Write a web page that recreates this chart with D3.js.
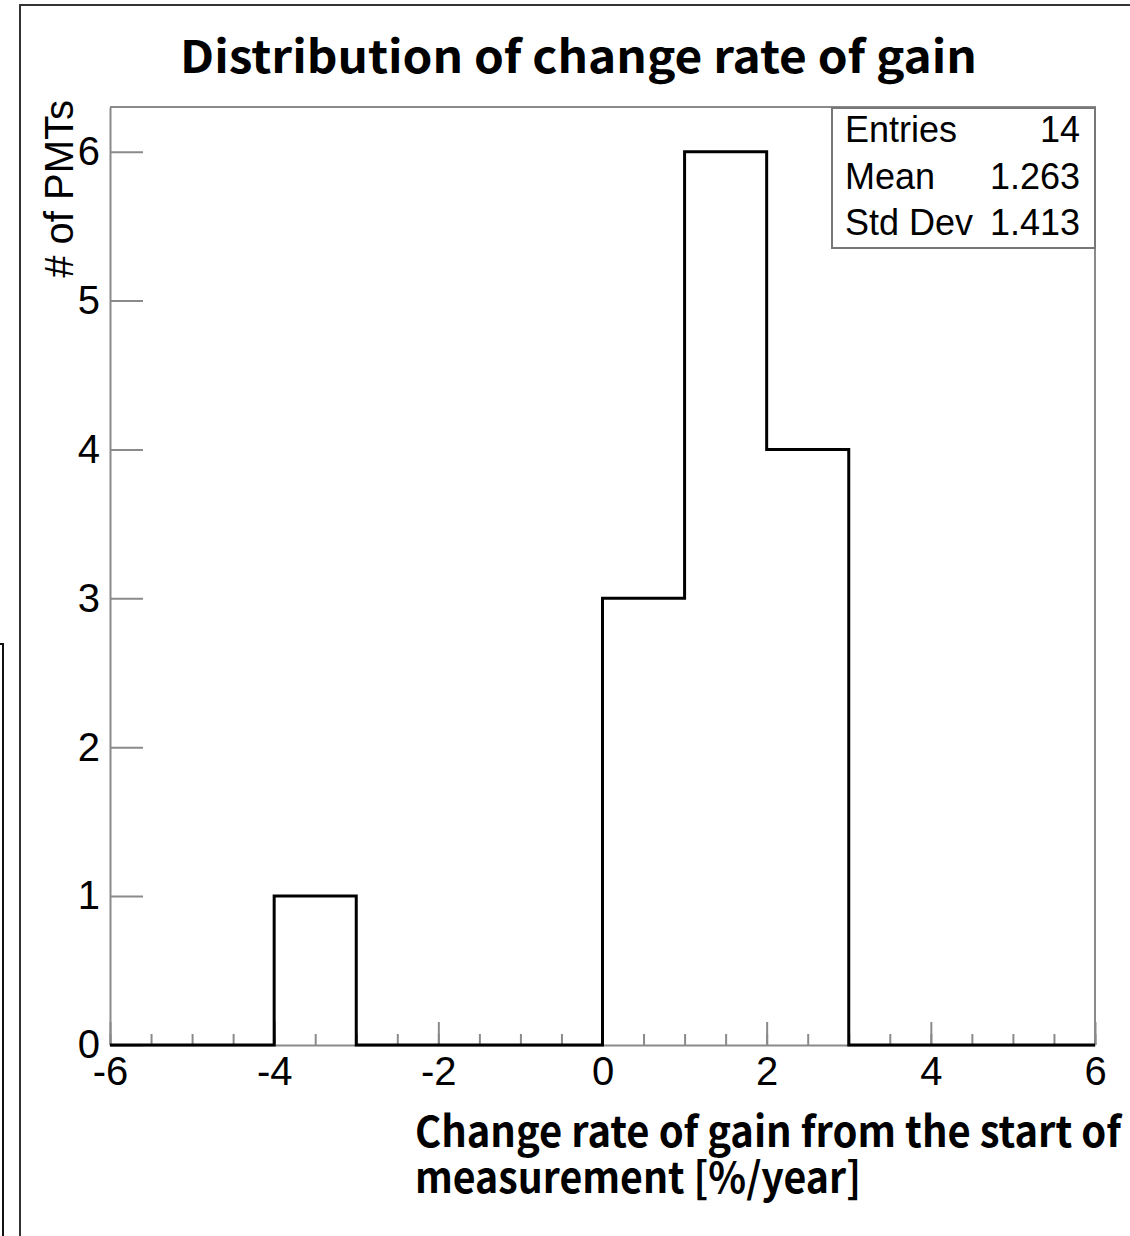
<!DOCTYPE html>
<html>
<head>
<meta charset="utf-8">
<script src="https://cdn.jsdelivr.net/npm/d3@7"></script>
<style>
  body { margin: 0; background: #fff; }
  svg { display: block; }
  .axis text { font-family: "Liberation Sans", Arial, sans-serif; font-size: 40px; fill: #000; }
  .axis line, .axis path { stroke: #8a8a8a; stroke-width: 2px; }
</style>
</head>
<body>
<svg id="chart"></svg>
<script>
// histogram bins: lower edges and counts
const binEdges = [-6, -5, -4, -3, -2, -1, 0, 1, 2, 3, 4, 5, 6];
const binCounts = [0, 0, 1, 0, 0, 0, 3, 6, 4, 0, 0, 0];
const xTicks = [-6, -4, -2, 0, 2, 4, 6];
const yTicks = [0, 1, 2, 3, 4, 5, 6];
const statLabels = ['Entries', 'Mean', 'Std Dev'];
const statValues = ['14', '1.263', '1.413'];

const config = {
  width: 1130, height: 1236,
  margin: { top: 107, right: 35, bottom: 191, left: 110 },
};

const svg = d3.select('#chart')
  .attr('width', config.width)
  .attr('height', config.height);

const innerW = config.width - config.margin.left - config.margin.right;
const innerH = config.height - config.margin.top - config.margin.bottom;

const xScale = d3.scaleLinear().domain([-6, 6]).range([0, innerW]);
const yScale = d3.scaleLinear().domain([0, d3.max(binCounts) * 1.05]).range([innerH, 0]);

// canvas frame lines
svg.append('path')
  .attr('d', `M20,${config.height} L20,5 L${config.width},5`)
  .attr('fill', 'none').attr('stroke', '#333').attr('stroke-width', 2);
svg.append('path')
  .attr('d', `M0,644 L3,644 L3,${config.height}`)
  .attr('fill', 'none').attr('stroke', '#111').attr('stroke-width', 2);

// title
svg.append('text')
  .attr('x', 180).attr('y', 73)
  .attr('textLength', 797).attr('lengthAdjust', 'spacingAndGlyphs')
  .style('font-family', '"Noto Sans CJK JP", "Noto Sans", sans-serif')
  .style('font-weight', 'bold').style('font-size', '45px')
  .text('Distribution of change rate of gain');

const chart = svg.append('g')
  .attr('transform', `translate(${config.margin.left},${config.margin.top})`);

// plot box top and right
chart.append('path')
  .attr('d', `M0,0 L${innerW},0 L${innerW},${innerH}`)
  .attr('fill', 'none').attr('stroke', '#8a8a8a').attr('stroke-width', 2);

// minor x ticks
chart.append('g')
  .attr('class', 'axis')
  .attr('transform', `translate(0,${innerH})`)
  .call(d3.axisBottom(xScale).tickValues(d3.range(-6, 6.01, 0.5)).tickSize(-11).tickFormat(''))
  .call((g) => g.select('.domain').remove());

// major x ticks
chart.append('g')
  .attr('class', 'axis')
  .attr('transform', `translate(0,${innerH})`)
  .call(d3.axisBottom(xScale).tickValues(xTicks).tickSize(-23).tickSizeOuter(0)
    .tickPadding(12).tickFormat((d) => String(d)));

// y axis
chart.append('g')
  .attr('class', 'axis')
  .call(d3.axisLeft(yScale).tickValues(yTicks).tickSize(-33).tickSizeOuter(0)
    .tickPadding(10).tickFormat((d) => String(d)));

// histogram outline
const pts = [[binEdges[0], 0]];
binCounts.forEach((c, i) => {
  pts.push([binEdges[i], c]);
  pts.push([binEdges[i + 1], c]);
});
pts.push([binEdges[binEdges.length - 1], 0]);

chart.append('path')
  .datum(pts)
  .attr('fill', 'none')
  .attr('stroke', '#000')
  .attr('stroke-width', 3)
  .attr('d', d3.line().x((d) => xScale(d[0])).y((d) => yScale(d[1])));

// y title
svg.append('text')
  .attr('transform', 'translate(73,100) rotate(-90)')
  .attr('text-anchor', 'end')
  .style('font-family', '"Liberation Sans", Arial, sans-serif')
  .style('font-size', '40px')
  .text('# of PMTs');

// x title (two lines)
const xTitle = ['Change rate of gain from the start of', 'measurement [%/year]'];
const xTitleLen = [706, 446];
svg.selectAll('.xtitle')
  .data(xTitle)
  .join('text')
  .attr('class', 'xtitle')
  .attr('x', 415)
  .attr('y', (d, i) => 1147 + i * 46)
  .attr('textLength', (d, i) => xTitleLen[i])
  .attr('lengthAdjust', 'spacingAndGlyphs')
  .style('font-family', '"Noto Sans CJK JP", "Noto Sans", sans-serif')
  .style('font-weight', 'bold')
  .style('font-size', '42px')
  .text((d) => d);

// stats box
const stats = svg.append('g');
stats.append('rect')
  .attr('x', 832).attr('y', 108)
  .attr('width', 263).attr('height', 140)
  .attr('fill', '#fff').attr('stroke', '#777').attr('stroke-width', 2);
stats.selectAll('.slabel')
  .data(statLabels)
  .join('text')
  .attr('x', 845)
  .attr('y', (d, i) => 142 + i * 46.5)
  .style('font-family', '"Liberation Sans", Arial, sans-serif')
  .style('font-size', '36px')
  .text((d) => d);
stats.selectAll('.svalue')
  .data(statValues)
  .join('text')
  .attr('x', 1080)
  .attr('y', (d, i) => 142 + i * 46.5)
  .attr('text-anchor', 'end')
  .style('font-family', '"Liberation Sans", Arial, sans-serif')
  .style('font-size', '36px')
  .text((d) => d);
</script>
</body>
</html>
